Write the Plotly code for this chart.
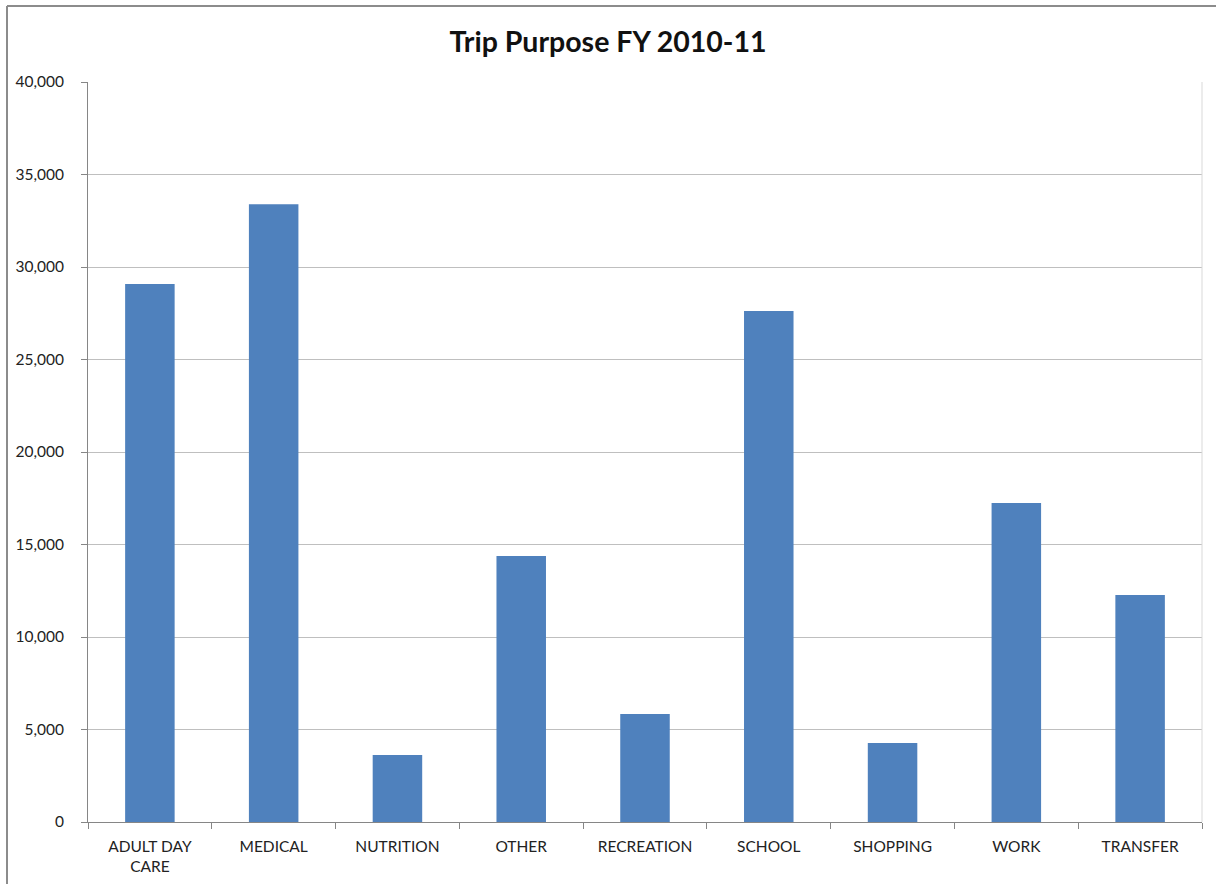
import plotly.graph_objects as go

categories = ["ADULT DAY<br>CARE", "MEDICAL", "NUTRITION", "OTHER", "RECREATION",
              "SCHOOL", "SHOPPING", "WORK", "TRANSFER"]
trips = [29080, 33390, 3620, 14380, 5840, 27620, 4270, 17240, 12270]
y_ticks = [0, 5000, 10000, 15000, 20000, 25000, 30000, 35000, 40000]

W, H = 1216, 884
L, R, T, B = 88, 14, 82, 62
pw, ph = W - L - R, H - T - B

fig = go.Figure(go.Bar(x=categories, y=trips, marker=dict(color="#4f81bd", line=dict(width=0))))

font_family = "Lato, 'Open Sans', sans-serif"
bx0 = (7 - L) / pw
bx1 = (W + 30 - L) / pw
by0 = -(H + 30 - T - ph) / ph
by1 = 1 + (T - 6) / ph
fig.update_layout(
    width=W, height=H,
    margin=dict(l=L, r=R, t=T, b=B, pad=0, autoexpand=False),
    paper_bgcolor="white", plot_bgcolor="white",
    bargap=0.6,
    showlegend=False,
    font=dict(family=font_family, color="#222222", size=15),
    title=dict(text="<b>Trip Purpose FY 2010-11</b>", x=0.5, xanchor="center",
               y=1 - 42 / H, yanchor="middle", font=dict(size=28.5, color="#111111", family=font_family)),
    xaxis=dict(showline=True, linecolor="#868686", linewidth=1, ticks="outside", ticklen=6,
               tickcolor="#868686", tickson="boundaries", showgrid=False, automargin=False,
               tickfont=dict(size=15.5), ticklabelstandoff=10),
    yaxis=dict(range=[0, 40000], tickvals=y_ticks, tickformat=",", showline=True,
               linecolor="#868686", linewidth=1, ticks="outside", ticklen=6, tickcolor="#868686",
               showgrid=True, gridcolor="#bfbfbf", gridwidth=1, zeroline=False, automargin=False,
               tickfont=dict(size=15.5), ticklabelstandoff=14),
    shapes=[
        # right edge of plot area
        dict(type="line", xref="paper", yref="paper", x0=1, x1=1, y0=0, y1=1,
             line=dict(color="#d9d9d9", width=1)),
        # outer chart border: left and top edges
        dict(type="line", xref="paper", yref="paper", x0=bx0, x1=bx0, y0=by0, y1=by1,
             line=dict(color="#8c8c8c", width=2), layer="above"),
        dict(type="line", xref="paper", yref="paper", x0=bx0, x1=bx1, y0=by1, y1=by1,
             line=dict(color="#8c8c8c", width=2), layer="above"),
    ],
)

fig.write_html("out.html")
